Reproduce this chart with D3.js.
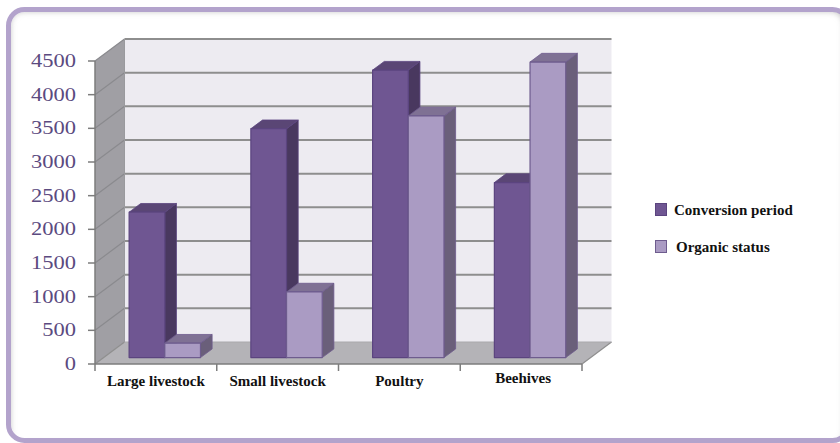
<!DOCTYPE html>
<html><head><meta charset="utf-8">
<script src="https://cdn.jsdelivr.net/npm/d3@7"></script>
<style>html,body{margin:0;padding:0;background:#fff;}svg{display:block;}</style>
</head><body>
<script>
const categories = ["Large livestock", "Small livestock", "Poultry", "Beehives"];
const seriesNames = ["Conversion period", "Organic status"];
const conversionPeriod = [2160, 3400, 4270, 2600];
const organicStatus = [215, 975, 3590, 4390];
const yTicks = [0, 500, 1000, 1500, 2000, 2500, 3000, 3500, 4000, 4500];

const W = 840, H = 443;
const svg = d3.select("body").append("svg").attr("width", W).attr("height", H);

// frame
const defs = svg.append("defs");
const sh = defs.append("filter").attr("id","inshadow").attr("x","-5%").attr("y","-5%").attr("width","110%").attr("height","110%");
sh.append("feGaussianBlur").attr("stdDeviation", 3);
svg.append("rect").attr("x", 8.5).attr("y", 9.5).attr("width", 840).attr("height", 431)
  .attr("rx", 16).attr("fill", "#fff");
const clip = defs.append("clipPath").attr("id","frameClip");
clip.append("rect").attr("x", 11).attr("y", 12).attr("width", 840).attr("height", 426).attr("rx", 14);
svg.append("g").attr("clip-path","url(#frameClip)")
  .append("rect").attr("x", 7).attr("y", 8).attr("width", 840).attr("height", 440).attr("rx", 16)
  .attr("fill","none").attr("stroke","#b8b8b8").attr("stroke-width",6).attr("filter","url(#inshadow)");
svg.append("rect").attr("x", 8.5).attr("y", 9.5).attr("width", 840).attr("height", 431)
  .attr("rx", 16).attr("fill", "none").attr("stroke", "#b3a3cc").attr("stroke-width", 5);

// 3D geometry
const x0 = 95, x1 = 582;
const DX = 29.5, DY = -22;
const y = d3.scaleLinear().domain([0, 4500]).range([364, 61]);
const xb = d3.scaleBand().domain(categories).range([x0, x1]).paddingInner(0).paddingOuter(0);
const P = (px, v, z) => [px + z * DX, y(v) + z * DY];
const poly = pts => "M" + pts.map(p => p.join(",")).join("L") + "Z";
const vmax = yTicks[yTicks.length - 1];

// back wall
svg.append("path").attr("d", poly([P(x0, 0, 1), P(x1, 0, 1), P(x1, vmax, 1), P(x0, vmax, 1)]))
  .attr("fill", "#edebf1");
// side wall
svg.append("path").attr("d", poly([P(x0, 0, 0), P(x0, 0, 1), P(x0, vmax, 1), P(x0, vmax, 0)]))
  .attr("fill", "#a09fa4");
// floor
svg.append("path").attr("d", poly([P(x0, 0, 0), P(x1, 0, 0), P(x1, 0, 1), P(x0, 0, 1)]))
  .attr("fill", "#b4b3b7");

// gridlines
yTicks.filter(t => t > 0).forEach(t => {
  const a = P(x0, t, 1), b = P(x1, t, 1), c = P(x0, t, 0);
  svg.append("line").attr("x1", a[0]).attr("y1", a[1]).attr("x2", b[0]).attr("y2", b[1])
    .attr("stroke", "#8e8e8e").attr("stroke-width", 2);
  svg.append("line").attr("x1", c[0]).attr("y1", c[1]).attr("x2", a[0]).attr("y2", a[1])
    .attr("stroke", "#8a8a8e").attr("stroke-width", 1.2);
});
// back wall right edge & floor edges
{
  const a = P(x1, 0, 1), b = P(x1, 0, 0);
  svg.append("line").attr("x1", a[0]).attr("y1", a[1]).attr("x2", b[0]).attr("y2", b[1])
    .attr("stroke", "#8e8e8e").attr("stroke-width", 1.2);
  const c = P(x0, 0, 0), d = P(x0, 0, 1);
  svg.append("line").attr("x1", c[0]).attr("y1", c[1]).attr("x2", d[0]).attr("y2", d[1])
    .attr("stroke", "#8e8e8e").attr("stroke-width", 1.2);
  const e = P(x0, 0, 1), f = P(x1, 0, 1);
  svg.append("line").attr("x1", e[0]).attr("y1", e[1]).attr("x2", f[0]).attr("y2", f[1])
    .attr("stroke", "#a9a9ac").attr("stroke-width", 1);
  const g = P(x0, 0, 1), h = P(x0, vmax, 1);
  svg.append("line").attr("x1", g[0]).attr("y1", g[1]).attr("x2", h[0]).attr("y2", h[1])
    .attr("stroke", "#9a9a9e").attr("stroke-width", 1);
}

// bars
const z0 = 0.29, z1 = 0.685;
const series = [
  { vals: conversionPeriod, front: "#6f5692", side: "#49385f", top: "#5a4675", edge: "#5b447f" },
  { vals: organicStatus, front: "#aa9bc3", side: "#6a5f7a", top: "#7f7194", edge: "#6e5c8e" }
];
const bw = xb.bandwidth();
const barW = bw * 0.293, off = bw * 0.21;
categories.forEach((cat, i) => {
  series.forEach((s, k) => {
    const v = s.vals[i];
    const xl = xb(cat) + off + k * barW, xr = xl + barW;
    const g = svg.append("g");
    g.append("path").attr("d", poly([P(xr, 0, z0), P(xr, 0, z1), P(xr, v, z1), P(xr, v, z0)]))
      .attr("fill", s.side).attr("stroke", s.edge).attr("stroke-width", 0.8).attr("stroke-linejoin", "round");
    g.append("path").attr("d", poly([P(xl, v, z0), P(xr, v, z0), P(xr, v, z1), P(xl, v, z1)]))
      .attr("fill", s.top).attr("stroke", s.edge).attr("stroke-width", 0.8).attr("stroke-linejoin", "round");
    g.append("path").attr("d", poly([P(xl, 0, z0), P(xr, 0, z0), P(xr, v, z0), P(xl, v, z0)]))
      .attr("fill", s.front).attr("stroke", s.edge).attr("stroke-width", 1.2).attr("stroke-linejoin", "round");
  });
});

// axes
const axisColor = "#7d7d7d";
svg.append("line").attr("x1", x0).attr("y1", y(0)).attr("x2", x0).attr("y2", y(vmax))
  .attr("stroke", axisColor).attr("stroke-width", 1.5);
svg.append("line").attr("x1", x0).attr("y1", y(0)).attr("x2", x1).attr("y2", y(0))
  .attr("stroke", axisColor).attr("stroke-width", 1.5);
yTicks.forEach(t => {
  svg.append("line").attr("x1", x0 - 7).attr("x2", x0).attr("y1", y(t)).attr("y2", y(t))
    .attr("stroke", axisColor).attr("stroke-width", 1.5);
  svg.append("text").attr("transform", `translate(76,${y(t) + 6}) scale(1.25,1)`)
    .attr("text-anchor", "end").attr("font-family", "Liberation Serif, serif")
    .attr("font-size", 18).attr("fill", "#5b4a80").text(t);
});
const bounds = categories.map(c => xb(c)).concat([x1]);
bounds.forEach(bx => {
  svg.append("line").attr("x1", bx).attr("x2", bx).attr("y1", y(0)).attr("y2", y(0) + 7)
    .attr("stroke", axisColor).attr("stroke-width", 1.5);
});
const catY = [386, 386, 386, 383];
categories.forEach((c, i) => {
  svg.append("text").attr("x", xb(c) + bw / 2 + (i === 3 ? 2 : 0)).attr("y", catY[i])
    .attr("text-anchor", "middle").attr("font-family", "Liberation Serif, serif")
    .attr("font-weight", "bold").attr("font-size", 15).attr("fill", "#111").text(c);
});

// legend
const legY = [209.5, 246.5];
seriesNames.forEach((n, k) => {
  svg.append("rect").attr("x", 655.5).attr("y", legY[k] - 6).attr("width", 11).attr("height", 12)
    .attr("fill", series[k].front).attr("stroke", series[k].edge).attr("stroke-width", 1);
  svg.append("text").attr("x", 674 + (k === 1 ? 2 : 0)).attr("y", legY[k] + 5)
    .attr("font-family", "Liberation Serif, serif").attr("font-weight", "bold")
    .attr("font-size", 15).attr("fill", "#111").text(n);
});
</script>
</body></html>
